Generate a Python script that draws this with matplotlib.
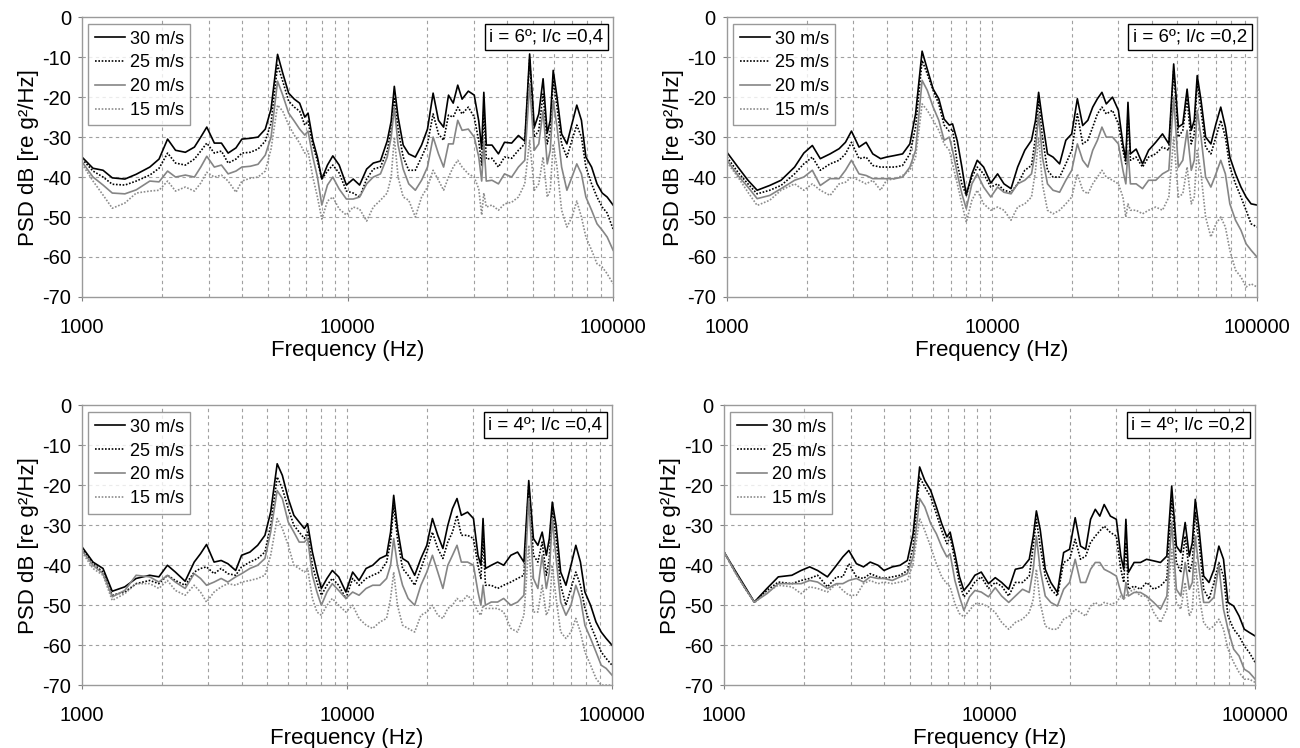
import matplotlib
matplotlib.use("Agg")
import matplotlib.pyplot as plt
from matplotlib.ticker import FixedLocator, NullFormatter, FixedFormatter

plt.rcParams['font.family'] = ['Liberation Sans', 'DejaVu Sans']
plt.rcParams['axes.unicode_minus'] = False

# shared frequency grid (Hz)
freq = [1000, 1100, 1200, 1300, 1450, 1600, 1800, 1950, 2100, 2250,
        2450, 2650, 2800, 2950, 3150, 3350, 3550, 3800, 4000, 4300,
        4600, 4900, 5150, 5450, 5700, 6000, 6300, 6600, 6900, 7100,
        7400, 7700, 8000, 8400, 8800, 9300, 9900, 10500, 11100, 11800,
        12500, 13300, 14100, 14600, 15000, 15500, 16200, 17000, 18000, 19000,
        20000, 21000, 22000, 23000, 24000, 25000, 26000, 27000, 28500, 30000,
        31200, 32000, 32600, 33300, 35000, 37000, 39000, 41500, 44000, 46500,
        48500, 50500, 52500, 54500, 56500, 58000, 59500, 61500, 64000, 67000,
        70000, 73000, 76000, 79000, 83000, 87000, 91000, 95000, 100000]

speeds = ['30 m/s', '25 m/s', '20 m/s', '15 m/s']
panel_labels = ['i = 6º; l/c =0,4', 'i = 6º; l/c =0,2',
                'i = 4º; l/c =0,4', 'i = 4º; l/c =0,2']

# panel i=6, l/c=0.4
tl_30 = [-35, -37.8, -38.3, -40.2, -40.5, -39.3, -37.5, -35.5, -30.5, -33.3,
         -33.8, -32.5, -30, -27.5, -31.5, -31.5, -34, -32.7, -30.5, -30.3,
         -30, -28, -23, -9.3, -14, -19, -20.5, -21.5, -25, -24,
         -30.8, -35, -40.5, -37, -34.7, -37, -42, -40.5, -42, -38,
         -36.5, -36, -31, -26, -17.3, -25, -32, -34.2, -35, -32,
         -28, -19, -25.8, -27.5, -19.5, -21.5, -17, -20.5, -18.5, -19.5,
         -26, -33, -18.8, -32, -32, -34.2, -31.3, -31.5, -29.6, -31,
         -9.2, -27.5, -24.2, -15.4, -29, -25.8, -13.3, -20, -29.2, -31.7,
         -26.7, -22, -25.8, -35, -37.5, -41.7, -44, -45, -47]
tl_25 = [-35.5, -38.5, -40, -41.8, -42, -41, -39.5, -37.8, -34, -36.5,
         -37, -35.5, -33.5, -31.5, -34, -33.5, -36.5, -35.5, -34, -33.8,
         -33, -31, -26.5, -12, -16, -21, -22.5, -23.5, -27, -26,
         -32, -36, -40.5, -38.5, -37, -39, -43.5, -44, -45, -40.5,
         -38, -37.5, -33.5, -28, -20, -28, -35, -38.3, -38.3, -35,
         -31.7, -24.2, -29.2, -30.8, -24.5, -25, -22.5, -24.2, -22.5, -25,
         -31, -37, -23.3, -35.5, -35.3, -37.5, -35, -35.3, -33.3, -31.7,
         -10.5, -30, -28.3, -19.2, -31.7, -28.5, -15.8, -22.5, -31.7, -35,
         -30.8, -27, -30, -37.5, -41.7, -45, -47.5, -49, -53]
tl_20 = [-36.2, -40, -42, -44, -44.2, -43.2, -41, -41.2, -38.5, -40,
         -39.5, -40, -37.5, -34.8, -37.5, -37, -39.2, -38.5, -37.5, -37.3,
         -36.8, -34.5, -30, -16, -19.5, -24, -26, -28, -29.5, -28.5,
         -35, -40, -47, -42, -40, -43, -45.5, -45.5, -45, -41.7,
         -40, -39.2, -35, -30, -22.5, -32, -38, -41.7, -43.3, -40.8,
         -37.5, -30, -34.2, -37.5, -31.7, -31.7, -25.8, -28.3, -28, -30,
         -35, -41, -31, -41, -40.8, -41.7, -39.2, -40, -37.5, -35.8,
         -16.7, -33.3, -31.7, -23.3, -36.7, -33.3, -20.8, -27.5, -37.5, -43.3,
         -40, -36.7, -39.2, -45, -48.3, -51.7, -53.3, -55, -58.3]
tl_15 = [-36.7, -41, -44.5, -47.8, -46.5, -44, -43.5, -43.3, -41, -43.5,
         -42.5, -43.5, -41.5, -38.8, -40, -39.5, -41, -43.8, -41, -40.3,
         -40, -38.5, -33, -22, -23.5, -27, -29.5, -31.5, -34, -33.5,
         -40, -45, -50.5, -46, -45, -48, -49.5, -47.5, -48, -51,
         -47.5, -45.8, -44, -40, -30, -40, -45, -45.8, -50, -45,
         -42.5, -38.3, -40.8, -43.3, -40, -37.5, -35.8, -37.5, -39.2, -40,
         -43, -49.5, -44, -47.5, -47, -48.3, -46.7, -46.3, -45, -41.7,
         -30.8, -43.3, -41.7, -35, -45, -43.3, -31.7, -37.5, -48.3, -52.5,
         -50, -46, -50, -55, -58.3, -61.7, -62.5, -64.2, -66.7]

# panel i=6, l/c=0.2
tr_30 = [-33.8, -37.5, -40.8, -43.3, -42.1, -40.8, -37.5, -34, -32.1, -35.4,
         -34.2, -32.9, -31.3, -28.5, -32.5, -31.3, -34.2, -35.4, -35, -34.6,
         -34.2, -31.7, -24.2, -8.5, -13, -18, -20.4, -25.5, -27, -26.7,
         -31, -37.5, -44.5, -39.2, -35.8, -37.5, -41.5, -39.2, -41.7, -42.9,
         -37.5, -33.3, -30.8, -25.8, -18.8, -25.8, -34.2, -35, -36.7, -30.8,
         -29.2, -20.4, -27.1, -25.8, -22.5, -20.4, -18.8, -21.7, -20, -23.3,
         -31.7, -35.8, -21.3, -34.2, -33, -36.7, -33.3, -31.3, -29.2, -31.7,
         -11.7, -27.5, -26.7, -18, -28.3, -25.8, -14.6, -20.8, -30, -31.7,
         -26.7, -22.5, -27.5, -35, -39.2, -42.5, -45, -46.7, -47]
tr_25 = [-35, -38.8, -41.7, -44.2, -43.3, -42.1, -39.2, -36.7, -35, -38.3,
         -36.7, -35.8, -34.2, -31.3, -35.4, -35, -37.1, -37.5, -37.5, -37.5,
         -37.1, -34.2, -27.5, -10.8, -14.2, -18.3, -21.7, -27, -28.5, -28,
         -36.7, -41.7, -44.6, -40, -37.5, -39.2, -42.5, -41.7, -43.3, -43.8,
         -41.7, -38.3, -37.1, -30, -20.8, -30, -38.3, -40, -40, -36.7,
         -33.3, -24.2, -31.7, -30.8, -27.5, -24.2, -22.5, -24.2, -23.3, -26.7,
         -33.3, -36.7, -24.2, -35.8, -35, -37.5, -35, -34.2, -32.5, -33.3,
         -13.3, -30, -28.3, -20.4, -31.7, -29.2, -16.3, -23.3, -32.5, -34.2,
         -30, -25.8, -30, -37.5, -41.7, -45, -48.3, -51.7, -52.5]
tr_20 = [-35.8, -39.6, -42.5, -45.4, -44.6, -42.9, -40.8, -40, -38.3, -42.1,
         -40.4, -40.4, -38.3, -35.8, -39.2, -39.6, -40.4, -40.4, -40.4, -40.4,
         -40, -37.5, -33.3, -15.8, -18.3, -22.5, -25.8, -30.8, -30, -33.3,
         -39.2, -44.2, -47.9, -41.7, -39.2, -42.5, -45, -42.5, -43.8, -44.2,
         -41.7, -40.8, -39.2, -33.3, -24.2, -35, -41.7, -43.3, -43.8, -40.8,
         -38.3, -31.7, -35.8, -37.5, -33.3, -30.8, -27.5, -30, -30, -31.7,
         -38.3, -41.7, -33.3, -41.7, -41.7, -42.9, -40.8, -40.8, -39.2, -38.3,
         -20, -37.5, -35.8, -28.3, -38.3, -35.8, -23.3, -30, -40, -42.5,
         -39.2, -35.8, -39.2, -46.7, -50.8, -53.3, -56.7, -58.3, -60]
tr_15 = [-36.3, -40, -43.8, -47.1, -45.8, -43.3, -41.7, -43.3, -41.7, -43.3,
         -44.6, -41.7, -41.3, -40, -40.8, -41.7, -40.8, -43.3, -40.8, -40.4,
         -39.6, -38.3, -35, -21.7, -23.3, -25.8, -28.3, -31.7, -33.3, -36.7,
         -41.7, -46.7, -51.3, -45.8, -43.3, -46.7, -48.3, -47.5, -48.3, -50.8,
         -47.5, -46.7, -45, -38.3, -30, -41.7, -48.3, -49.2, -48.3, -46.7,
         -45, -39.2, -43.3, -44.2, -41.7, -40, -38.3, -40, -40.8, -41.7,
         -45, -50, -46.7, -48.3, -48.3, -49.2, -48.3, -47.5, -48.3, -45,
         -30, -45, -44.2, -37.5, -46.7, -45, -33.3, -39.2, -50, -55,
         -51.7, -50, -52.5, -58.3, -63.3, -65, -67.5, -66.7, -67.5]

# panel i=4, l/c=0.4
bl_30 = [-35.4, -39.2, -40.8, -46.5, -45.4, -43.3, -42.5, -42.9, -40, -41.7,
         -44, -39.2, -37.1, -34.8, -39.2, -38.8, -39.6, -41.3, -37.5, -36.7,
         -35, -32.5, -26.7, -14.6, -17.5, -23.3, -27.5, -29.2, -30.8, -29.6,
         -36.7, -41.7, -45.8, -43.3, -41.3, -42.9, -46.7, -41.7, -43.8, -40.8,
         -40, -38.3, -37.5, -31.7, -22.5, -30.8, -38.3, -39.2, -42.5, -38.3,
         -35, -28.3, -32.5, -35.8, -30, -25.8, -23.3, -27.5, -26.7, -28.3,
         -37.5, -40, -28.3, -40.8, -40, -39.2, -40, -37.5, -36.7, -39.2,
         -18.8, -33.3, -35, -31.7, -37.5, -33.3, -24.2, -30, -41.7, -45,
         -40, -35, -39.2, -46.7, -50, -54.2, -56.7, -58.3, -60]
bl_25 = [-35.8, -39.6, -41.7, -47.5, -46.7, -44.6, -43.8, -44.6, -42.5, -43.8,
         -45, -41.7, -40.8, -40.4, -42.1, -40.8, -42.1, -42.5, -40.4, -39.2,
         -38.3, -36.7, -30, -17.9, -20.8, -25.8, -30, -31.7, -33.3, -31.7,
         -40, -44.2, -47.5, -45, -43.3, -45, -48.3, -43.3, -45, -43.3,
         -42.5, -41.7, -39.2, -34.2, -25, -33.3, -40.8, -42.5, -45, -40.8,
         -36.7, -31.7, -35.8, -38.3, -34.2, -31.7, -27.5, -32.5, -32.5, -33.3,
         -40, -43.3, -33.3, -45, -45, -45.8, -45, -44.2, -43.3, -42.5,
         -20, -37.5, -39.2, -34.2, -42.5, -38.3, -25.8, -33.3, -45, -50,
         -45.8, -41.7, -45, -50.8, -55, -58.3, -61.7, -63.3, -65]
bl_20 = [-36.3, -40, -42.1, -47.9, -46.3, -42.5, -42.9, -44.2, -42.5, -44.2,
         -45.8, -42.1, -43.3, -45, -44.2, -43.3, -44.2, -42.9, -42.1, -40.8,
         -40, -38.3, -31.7, -21.3, -23.3, -29.2, -31.7, -34.2, -34.2, -33.3,
         -42.5, -46.7, -50, -46.7, -44.6, -46.3, -48.3, -46.7, -47.5, -45.8,
         -45, -45, -43.3, -40, -33.3, -40, -45, -48.3, -50, -45,
         -41.7, -37.5, -41.7, -45.8, -40, -37.5, -35, -39.2, -39.2, -40,
         -46.7, -50, -45, -50, -49.2, -49.2, -48.3, -50, -49.2, -47.5,
         -23.3, -43.3, -45.8, -37.5, -45.8, -41.7, -28.3, -38.3, -49.2, -52.5,
         -50, -45, -48.3, -55, -58.3, -61.7, -65, -65.8, -67.5]
bl_15 = [-36.7, -40.8, -42.5, -48.8, -47.1, -44.6, -44.6, -45.8, -43.8, -46.3,
         -47.5, -45, -46.7, -49.2, -46.7, -45.4, -44.6, -45, -44.2, -43.8,
         -43.3, -42.5, -37.5, -28.3, -30.8, -35, -40, -40.8, -41.7, -40.8,
         -48.3, -51.7, -52.5, -50, -48.3, -50, -51.7, -50, -53.3, -55,
         -55.8, -54.2, -53.3, -48.3, -41.7, -50, -55, -55.8, -56.7, -52.5,
         -51.7, -50, -52.5, -53.3, -50.8, -50, -48.3, -49.2, -47.5, -49.2,
         -51.7, -52.5, -50, -50.8, -50.8, -50.8, -51.7, -55.8, -56.7, -52.5,
         -35, -51.7, -51.7, -45, -52.5, -50.8, -40, -48.3, -56.7, -58.3,
         -56.7, -53.3, -56.7, -61.7, -65, -68.3, -70, -70, -70]

# panel i=4, l/c=0.2
br_30 = [-36.7, -41.3, -45.4, -49.2, -45.8, -42.9, -42.5, -41.3, -40.4, -41.3,
         -42.9, -40, -37.9, -36.3, -39.6, -40.4, -39.2, -40, -41.3, -40.4,
         -40, -38.8, -32.1, -15.4, -18.8, -21.3, -25.4, -29.6, -32.9, -31.7,
         -37.1, -42.9, -46.3, -44.6, -42.5, -41.7, -44.6, -43.1, -44.3, -46,
         -41, -40.6, -38.5, -32.7, -26.4, -31, -41, -44.3, -46.8, -36.8,
         -36, -28.1, -35.2, -36, -28.5, -26, -27.7, -24.8, -27.7, -28.5,
         -37.7, -41, -28.5, -41.8, -39.3, -39.3, -38.5, -38.9, -39.3, -37.7,
         -20.2, -35.2, -36.8, -29.3, -37.7, -34.3, -23.5, -31, -42.7, -44.3,
         -41, -35.2, -38.5, -49.3, -50.2, -52.7, -56, -56.8, -57.7]
br_25 = [-36.7, -41.7, -45.8, -49.2, -46.3, -44.2, -44.6, -43.8, -43.3, -42.5,
         -45.4, -42.9, -42.9, -39.6, -42.9, -43.3, -42.1, -42.9, -43.3, -42.9,
         -42.5, -41.3, -35.4, -17.9, -20.4, -22.9, -27.1, -31.3, -34.6, -32.9,
         -38.8, -44.6, -47.9, -46.3, -44.2, -42.9, -45.8, -44.3, -45.2, -47.7,
         -44.3, -44.3, -42.7, -35.2, -28.5, -35.2, -42.7, -46, -47.7, -39.3,
         -38.5, -33.5, -38.5, -37.7, -34.3, -32.7, -31.4, -30.2, -31.8, -32.7,
         -41, -44.3, -34.3, -46, -45.2, -46, -44.3, -46, -45.2, -43.5,
         -23.5, -39.3, -41.8, -32.7, -41.8, -39.3, -26.8, -34.3, -46, -48.5,
         -44.3, -39.3, -42.7, -52.7, -56, -57.7, -60.2, -61.8, -64.3]
br_20 = [-36.7, -41.7, -45.8, -49.2, -47.1, -44.6, -44.6, -44.6, -43.8, -44.2,
         -45.8, -44.6, -44.6, -43.8, -43.3, -44.2, -42.9, -43.3, -43.3, -43.8,
         -42.9, -42.1, -37.9, -23.3, -25.4, -29.6, -32.1, -35.4, -37.9, -37.1,
         -43.8, -47.9, -51.3, -47.9, -46.3, -46.7, -47.9, -45.6, -47.7, -49.3,
         -47.7, -46, -46.8, -41, -32.7, -41, -47.7, -49.3, -50.2, -46,
         -44.3, -38.5, -44.3, -44.3, -41, -39.3, -39.3, -41, -41.8, -42.7,
         -46.8, -48.5, -44.3, -47.7, -46.8, -46.8, -47.7, -49.3, -51, -47.7,
         -29.3, -46, -47.7, -39.3, -46, -44.3, -32.7, -41, -49.3, -49.3,
         -48, -40, -51, -56, -61, -62.7, -66, -66.8, -68.5]
br_15 = [-36.7, -41.7, -45.8, -49.4, -46.7, -45, -45.4, -47.1, -45.4, -45.8,
         -46.7, -44.6, -46.3, -47.5, -47.5, -44.6, -43.8, -44.6, -44.2, -44.6,
         -44.2, -43.8, -39.6, -28.3, -31.3, -35.4, -39.6, -42.9, -44.6, -45.4,
         -49.6, -52.1, -52.9, -51.3, -49.6, -49.6, -50.4, -51.8, -54.3, -56,
         -54.3, -53.5, -51.8, -48.5, -41, -49.3, -55.2, -56, -56, -53.5,
         -52.7, -51, -51.8, -52.7, -50.2, -49.3, -50.2, -49.3, -49.8, -49.3,
         -47.7, -48.5, -47.7, -46.8, -46, -47.7, -47.7, -51.8, -54.3, -51,
         -36, -49.3, -51, -44.3, -52.7, -51, -39.3, -47.7, -54.3, -56,
         -55.2, -53.5, -56, -61, -64.3, -66.8, -68.5, -68.5, -69.3]

panel_data = [[tl_30, tl_25, tl_20, tl_15],
              [tr_30, tr_25, tr_20, tr_15],
              [bl_30, bl_25, bl_20, bl_15],
              [br_30, br_25, br_20, br_15]]

# axes rectangles in figure fractions (left, bottom, width, height)
rects = [(0.0631, 0.603, 0.4085, 0.374),
         (0.5592, 0.603, 0.4077, 0.374),
         (0.0631, 0.084, 0.4077, 0.374),
         (0.557, 0.084, 0.4085, 0.374)]

styles = [dict(color='black', lw=1.2, ls='-'),
          dict(color='black', lw=1.2, ls=(0, (1, 1))),
          dict(color='#858585', lw=1.2, ls='-'),
          dict(color='#8c8c8c', lw=1.2, ls=(0, (1, 1)))]

fig = plt.figure(figsize=(13, 7.48), dpi=100)

grid_x = [2000, 3000, 4000, 5000, 6000, 7000, 8000, 9000, 10000,
          20000, 30000, 40000, 50000, 60000, 70000, 80000, 90000]

for rect, series, label in zip(rects, panel_data, panel_labels):
    ax = fig.add_axes(rect)
    ax.set_xscale('log')
    for vals, name, st in zip(series, speeds, styles):
        ax.plot(freq, vals, label=name, **st)
    ax.set_xlim(1000, 100000)
    ax.set_ylim(-70, 0)

    ax.xaxis.set_major_locator(FixedLocator([1000, 10000, 100000]))
    ax.xaxis.set_major_formatter(FixedFormatter(['1000', '10000', '100000']))
    ax.xaxis.set_minor_locator(FixedLocator(grid_x))
    ax.xaxis.set_minor_formatter(NullFormatter())
    ax.set_yticks(range(-70, 1, 10))

    for x in grid_x:
        ax.axvline(x, color='#a0a0a0', lw=0.8, ls=(0, (3, 3)), zorder=0)
    for y in range(-60, 0, 10):
        ax.axhline(y, color='#a0a0a0', lw=0.8, ls=(0, (3, 3)), zorder=0)

    for sp in ax.spines.values():
        sp.set_color('#9a9a9a')
        sp.set_linewidth(1.0)
    ax.tick_params(axis='both', which='major', labelsize=14.5, length=3,
                   color='#808080', pad=5)
    ax.tick_params(axis='x', which='major', pad=12)
    ax.tick_params(axis='both', which='minor', length=0)

    ax.set_xlabel('Frequency (Hz)', fontsize=16, labelpad=2)
    ax.set_ylabel('PSD dB [re g²/Hz]', fontsize=16, labelpad=2)

    leg = ax.legend(loc='upper left', bbox_to_anchor=(0.012, 0.975),
                    borderaxespad=0, fontsize=13, frameon=True, fancybox=False,
                    handlelength=1.7, handletextpad=0.25, labelspacing=0.38,
                    borderpad=0.35)
    leg.get_frame().set_edgecolor('#808080')
    leg.get_frame().set_linewidth(1.0)

    ax.text(0.982, 0.93, label, transform=ax.transAxes, ha='right', va='center',
            fontsize=13.5,
            bbox=dict(boxstyle='square,pad=0.25', fc='white', ec='black', lw=1.0))

fig.savefig('out.png', dpi=100)
